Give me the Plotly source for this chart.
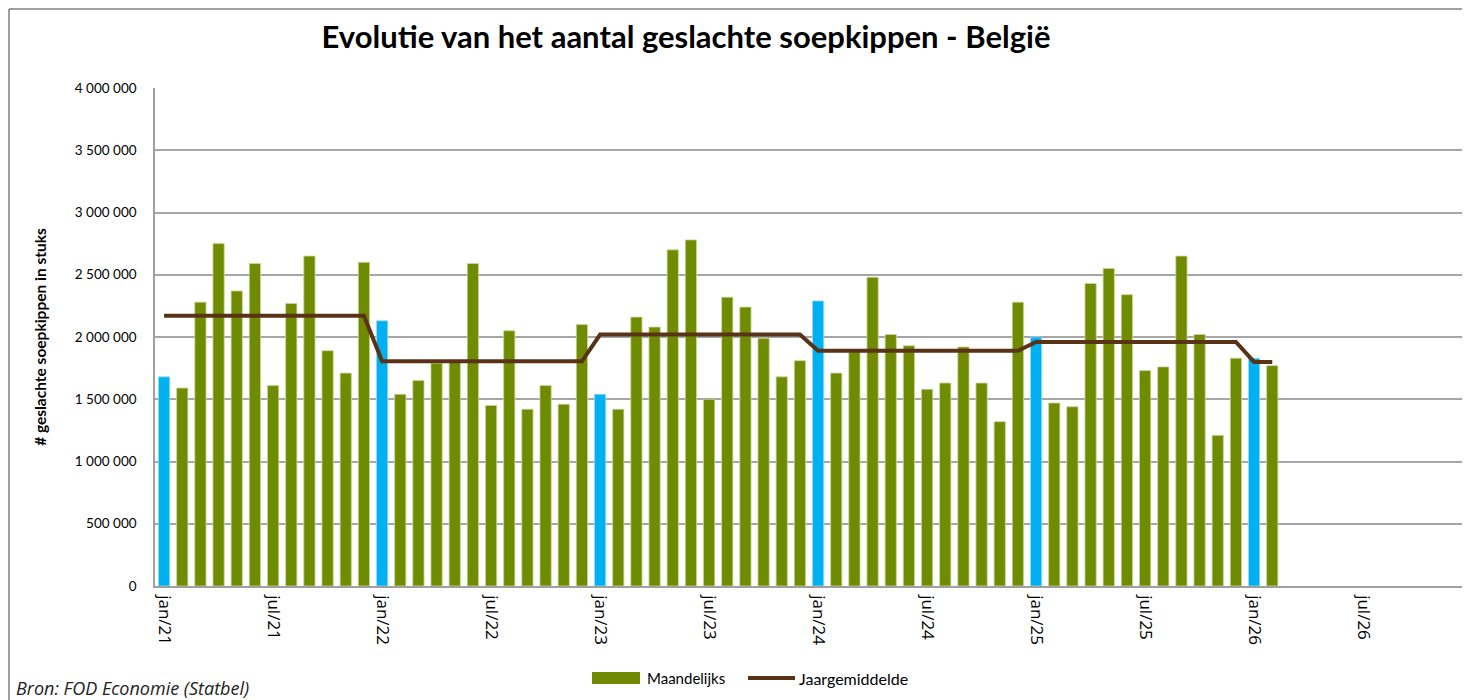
import plotly.graph_objects as go

months_nl = ["jan", "feb", "mrt", "apr", "mei", "jun", "jul", "aug", "sep", "okt", "nov", "dec"]
years = ["21", "22", "23", "24", "25", "26"]
categories = [f"{m}/{y}" for y in years for m in months_nl]  # jan/21 .. dec/26

# Monthly slaughter of soup chickens, jan/21 .. feb/26
monthly = [
    1680000, 1590000, 2280000, 2750000, 2370000, 2590000, 1610000, 2270000, 2650000, 1890000, 1710000, 2600000,  # 2021
    2130000, 1540000, 1650000, 1790000, 1800000, 2590000, 1450000, 2050000, 1420000, 1610000, 1460000, 2100000,  # 2022
    1540000, 1420000, 2160000, 2080000, 2700000, 2780000, 1500000, 2320000, 2240000, 1990000, 1680000, 1810000,  # 2023
    2290000, 1710000, 1880000, 2480000, 2020000, 1930000, 1580000, 1630000, 1920000, 1630000, 1320000, 2280000,  # 2024
    2000000, 1470000, 1440000, 2430000, 2550000, 2340000, 1730000, 1760000, 2650000, 2020000, 1210000, 1830000,  # 2025
    1830000, 1770000,                                                                                              # 2026
]
# Yearly averages (Jaargemiddelde) as drawn
yearly_avg = [2170000, 1805000, 2020000, 1890000, 1960000, 1800000]

tick_labels = ["jan/21", "jul/21", "jan/22", "jul/22", "jan/23", "jul/23", "jan/24",
               "jul/24", "jan/25", "jul/25", "jan/26", "jul/26"]
y_ticks = [0, 500000, 1000000, 1500000, 2000000, 2500000, 3000000, 3500000, 4000000]

n = len(monthly)
x_data = categories[:n]
avg_line = [yearly_avg[i // 12] for i in range(n)]

green_vals = [v if i % 12 != 0 else None for i, v in enumerate(monthly)]
blue_vals = [v if i % 12 == 0 else None for i, v in enumerate(monthly)]
tick_vals = [categories[i] for i in range(0, 72, 6)]

GREEN = "#718B00"
BLUE = "#00B0F0"
BROWN = "#5A3218"
FONT = "Lato"

fig = go.Figure()
fig.add_trace(go.Bar(x=x_data, y=green_vals, name="Maandelijks",
                     marker=dict(color=GREEN, line=dict(color="#C9D7A0", width=0.8)),
                     width=0.62))
fig.add_trace(go.Bar(x=x_data, y=blue_vals, name="Januari",
                     marker=dict(color=BLUE, line=dict(color="#9FDDF5", width=0.8)),
                     width=0.62))
fig.add_trace(go.Scatter(x=x_data, y=avg_line, name="Jaargemiddelde", mode="lines",
                         line=dict(color=BROWN, width=4)))

# page body has an 8 px margin; figure coords = screen coords - 8
OFF = 8
W, H = 1462, 692
L, R, T, B = 147, 7, 80, 114
pw = W - L - R
ph = H - T - B


def px(xs):
    return (xs - OFF - L) / pw


def py(ys):
    return (H - B - (ys - OFF)) / ph


fig.update_layout(
    width=W, height=H,
    margin=dict(l=L, r=R, t=T, b=B),
    paper_bgcolor="white", plot_bgcolor="white",
    barmode="overlay",
    separators=", ",
    font=dict(family=FONT, size=14, color="black"),
    title=dict(text="<b>Evolutie van het aantal geslachte soepkippen - België</b>",
               font=dict(family=FONT, size=31, color="black"),
               x=px(686), xref="paper", xanchor="center",
               y=1 - (37 - OFF) / H, yref="container", yanchor="middle"),
    showlegend=False,
    xaxis=dict(type="category", categoryorder="array", categoryarray=categories,
               range=[-0.5, 71.5], tickmode="array", tickvals=tick_vals, ticktext=tick_labels,
               tickangle=90, showgrid=False, showline=True, linecolor="#A0A0A0", linewidth=1.5,
               ticks="", tickfont=dict(family="Open Sans", size=17), ticklabelstandoff=4),
    yaxis=dict(range=[0, 4000000], tickmode="array", tickvals=y_ticks, tickformat=",d",
               showgrid=True, gridcolor="#A6A6A6", gridwidth=1.5,
               showline=True, linecolor="#A0A0A0", linewidth=1.5,
               ticks="", tickfont=dict(family=FONT, size=13.5), ticklabelstandoff=14,
               zeroline=False,
               title=dict(text="<b># geslachte soepkippen in stuks</b>",
                          font=dict(family=FONT, size=15.5), standoff=24)),
    annotations=[
        dict(text="<i>Bron: FOD Economie (Statbel)</i>", x=px(14), y=py(688),
             xref="paper", yref="paper", xanchor="left", yanchor="middle",
             showarrow=False, font=dict(family="Open Sans", size=18, color="#222222")),
        dict(text="Maandelijks", x=px(645), y=py(678), xref="paper", yref="paper",
             xanchor="left", yanchor="middle", showarrow=False,
             font=dict(family=FONT, size=15)),
        dict(text="Jaargemiddelde", x=px(797), y=py(678), xref="paper", yref="paper",
             xanchor="left", yanchor="middle", showarrow=False,
             font=dict(family=FONT, size=16)),
    ],
    shapes=[
        dict(type="rect", xref="paper", yref="paper",
             x0=px(9), x1=px(1490), y0=py(720), y1=py(9),
             line=dict(color="#404040", width=1), fillcolor="rgba(0,0,0,0)", layer="below"),
        dict(type="rect", xref="paper", yref="paper",
             x0=px(592), x1=px(640), y0=py(684), y1=py(672),
             line=dict(width=0), fillcolor=GREEN),
        dict(type="line", xref="paper", yref="paper",
             x0=px(748), x1=px(795), y0=py(678), y1=py(678),
             line=dict(color=BROWN, width=4)),
    ],
)

fig.write_html("out.html")
